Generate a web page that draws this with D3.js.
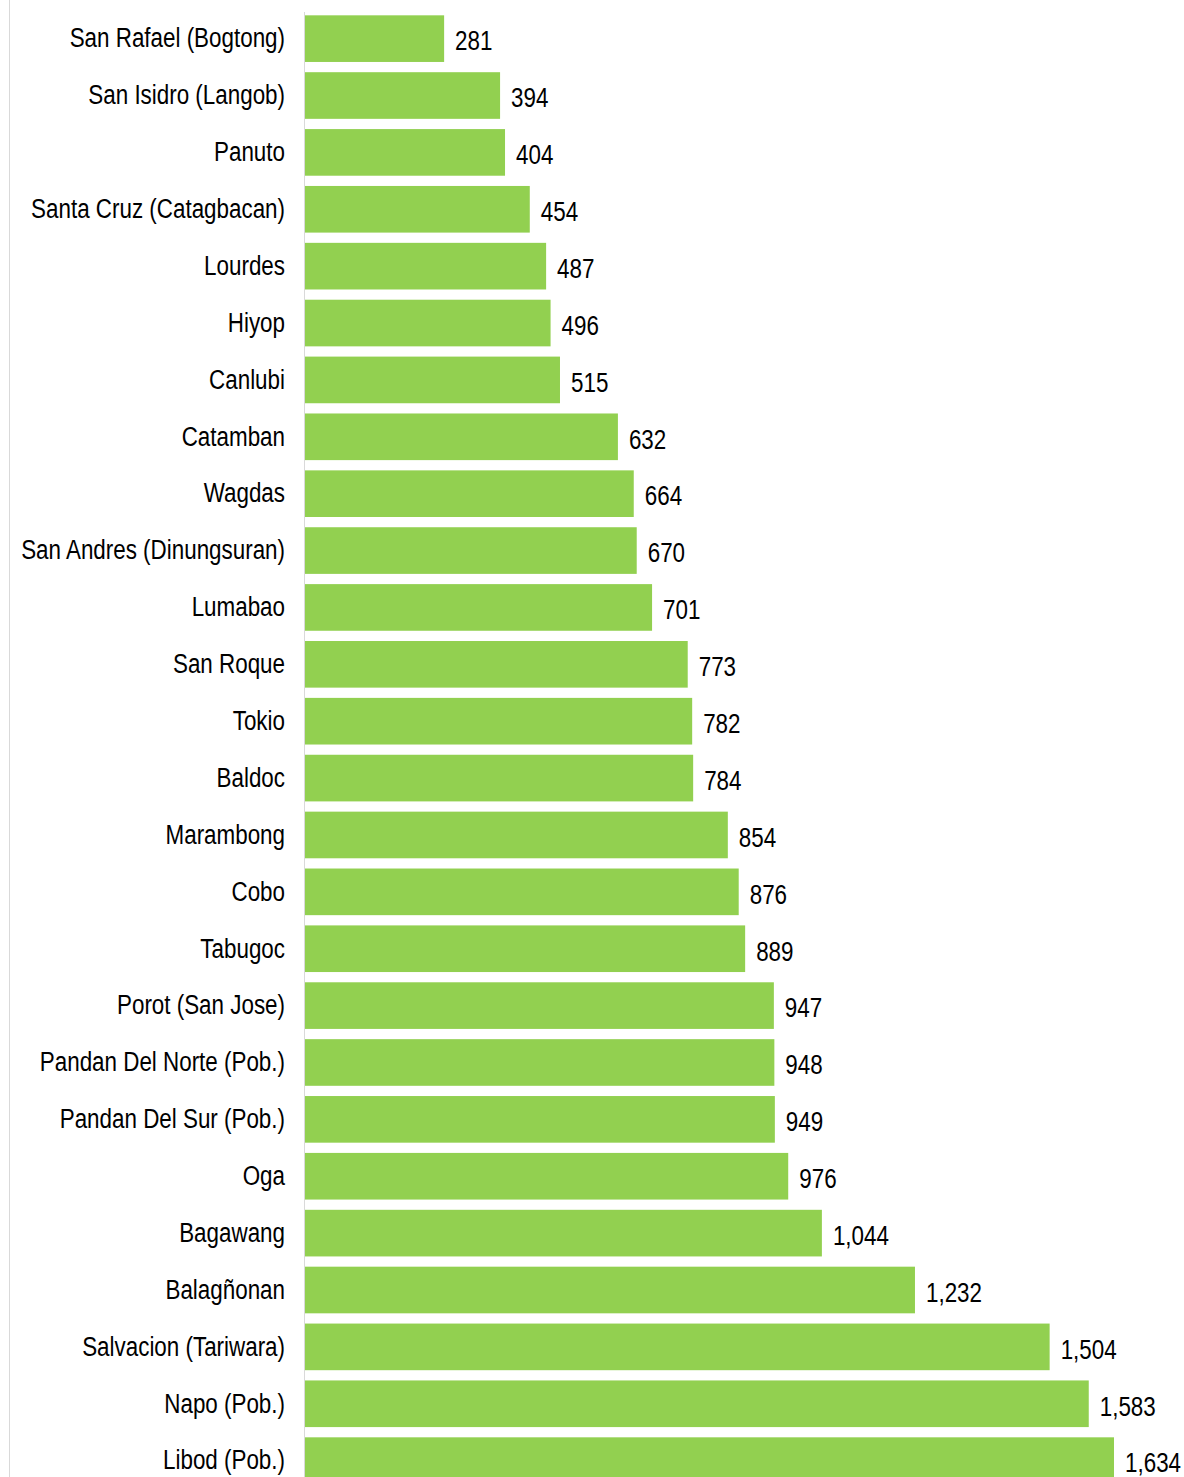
<!DOCTYPE html>
<html><head><meta charset="utf-8">
<script src="https://cdn.jsdelivr.net/npm/d3@7"></script>
<style>html,body{margin:0;padding:0;background:#fff;}</style>
</head><body>
<svg id="c" width="1184" height="1477"></svg>
<script>
const categories = ["San Rafael (Bogtong)","San Isidro (Langob)","Panuto","Santa Cruz (Catagbacan)","Lourdes","Hiyop","Canlubi","Catamban","Wagdas","San Andres (Dinungsuran)","Lumabao","San Roque","Tokio","Baldoc","Marambong","Cobo","Tabugoc","Porot (San Jose)","Pandan Del Norte (Pob.)","Pandan Del Sur (Pob.)","Oga","Bagawang","Balagñonan","Salvacion (Tariwara)","Napo (Pob.)","Libod (Pob.)"];
const values = [281,394,404,454,487,496,515,632,664,670,701,773,782,784,854,876,889,947,948,949,976,1044,1232,1504,1583,1634];

const svg = d3.select("#c");
const font = "'Liberation Sans',Arial,sans-serif";
const sx = 0.8;
const x = d3.scaleLinear().domain([0,1634]).range([305,1114]);
const step = 56.88;
const y = d3.scaleBand().domain(categories).range([10.2, 10.2+26*step]).paddingInner(0.18).paddingOuter(0.09);

svg.append("line").attr("x1",9.5).attr("x2",9.5).attr("y1",0).attr("y2",1477).attr("stroke","#d9d9d9").attr("stroke-width",1);
svg.append("line").attr("x1",304.5).attr("x2",304.5).attr("y1",12).attr("y2",1477).attr("stroke","#d9d9d9").attr("stroke-width",1);

svg.selectAll("rect.bar").data(values).join("rect").attr("class","bar")
  .attr("x",x(0)).attr("y",(d,i)=>y(categories[i]))
  .attr("width",d=>x(d)-x(0)).attr("height",y.bandwidth())
  .attr("fill","#92D050");

svg.selectAll("text.cat").data(categories).join("text").attr("class","cat")
  .attr("transform",d=>`translate(285,${y(d)+y.bandwidth()/2-1}) scale(${sx},1)`)
  .attr("dy","0.35em")
  .attr("text-anchor","end").attr("font-family",font).attr("font-size",28).attr("fill","#000")
  .text(d=>d);

svg.selectAll("text.val").data(values).join("text").attr("class","val")
  .attr("transform",(d,i)=>`translate(${x(d)+11},${y(categories[i])+y.bandwidth()/2+2}) scale(${sx},1)`)
  .attr("dy","0.35em")
  .attr("font-family",font).attr("font-size",28).attr("fill","#000")
  .text(d=>d3.format(",")(d));
</script>
</body></html>
